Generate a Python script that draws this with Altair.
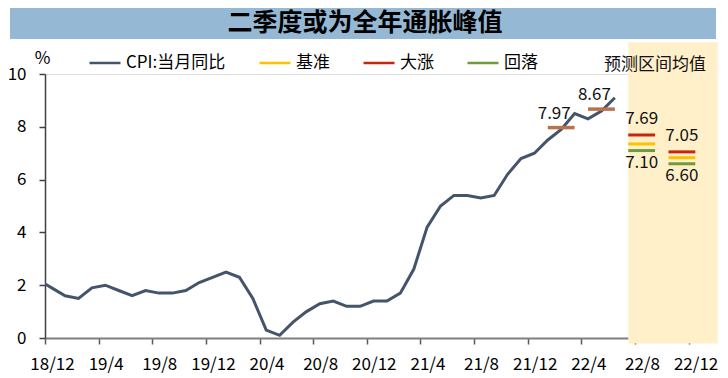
import json
import altair as alt
import pandas as pd

# ---------------- data ----------------
months = []
yy, mm = 2018, 11
for _ in range(50):
    months.append(f"{yy % 100}/{mm}")
    mm += 1
    if mm > 12:
        mm, yy = 1, yy + 1
# months[0] = "18/11" (partly clipped), months[1] = "18/12" is the first category

cpi_values = [2.2, 1.9, 1.6, 1.5, 1.9, 2.0, 1.8, 1.6, 1.8, 1.7, 1.7, 1.8, 2.1, 2.3,
              2.5, 2.3, 1.5, 0.3, 0.1, 0.6, 1.0, 1.3, 1.4, 1.2, 1.2, 1.4, 1.4, 1.7,
              2.6, 4.2, 5.0, 5.4, 5.4, 5.3, 5.4, 6.2, 6.8, 7.0, 7.5, 7.9, 8.5, 8.3,
              8.6, 9.1]

quarter_months = ["22/2", "22/5"]
quarter_values = [7.97, 8.67]

fc_months = ["22/8", "22/8", "22/8", "22/11", "22/11", "22/11"]
fc_scenarios = ["大涨", "基准", "回落", "大涨", "基准", "回落"]
fc_values = [7.69, 7.35, 7.10, 7.05, 6.83, 6.60]

tick_labels = months[1::4]
series_names = ["CPI:当月同比", "基准", "大涨", "回落"]
series_colors = ["#44546A", "#FFC000", "#C8240E", "#6E9B3C"]

title_text = "二季度或为全年通胀峰值"
shade_text = "预测区间均值"


def idx(label):
    return months.index(label) - 1


FONT = "Noto Sans CJK SC"

cpi_df = pd.DataFrame({
    "x": [idx(m) for m in months[:len(cpi_values)]],
    "value": cpi_values,
    "series": series_names[0],
})

q_df = pd.DataFrame({
    "x0": [idx(m) - 1 for m in quarter_months],
    "x1": [idx(m) + 1 for m in quarter_months],
    "xm": [idx(m) for m in quarter_months],
    "value": quarter_values,
    "label": [f"{v:.2f}" for v in quarter_values],
})

fc_df = pd.DataFrame({
    "x0": [idx(m) - 1 for m in fc_months],
    "x1": [idx(m) + 1 for m in fc_months],
    "xm": [idx(m) for m in fc_months],
    "value": fc_values,
    "series": fc_scenarios,
    "label": [f"{v:.2f}" for v in fc_values],
})

shade_df = pd.DataFrame({"x0": [idx("22/7")], "x1": [idx("22/12") + 1.67],
                         "y0": [-0.21], "y1": [11.2]})

xscale = alt.Scale(domain=[-0.5, 48.5], nice=False, zero=False)
yscale = alt.Scale(domain=[0, 10], nice=False, zero=True)
cscale = alt.Scale(domain=series_names, range=series_colors)

label_expr = f"{json.dumps(tick_labels, ensure_ascii=False)}[round((datum.value + 0.5) / 4)]"

x_axis = alt.Axis(values=[-0.5 + 4 * k for k in range(13)], labelExpr=label_expr,
                  title=None, grid=False, tickSize=6, labelPadding=12,
                  labelOffset=7, labelFontSize=17, labelFont=FONT, labelColor="#000000",
                  domainColor="#7F7F7F", domainWidth=2, tickColor="#595959", tickWidth=1.5,
                  labelOverlap=False, labelFlush=False)
y_axis = alt.Axis(values=[0, 2, 4, 6, 8, 10], title="%", titleAngle=0, titleX=-3,
                  titleY=-16, titleAlign="center", titleBaseline="middle",
                  titleFontWeight="normal", titleFontSize=17, titleFont=FONT,
                  titleColor="#000000", grid=False, tickSize=6, labelPadding=13,
                  labelFontSize=17, labelFont=FONT, labelColor="#000000",
                  domainColor="#404040", domainWidth=1.5, tickColor="#404040",
                  tickWidth=1.5)

legend = alt.Legend(orient="none", legendX=43, legendY=-28, direction="horizontal",
                    title=None, symbolType="stroke", symbolSize=961, symbolStrokeWidth=2.5,
                    labelFontSize=17, labelFont=FONT, labelColor="#000000",
                    columnPadding=28, padding=0, labelOffset=4, labelLimit=0)

shade = alt.Chart(shade_df).mark_rect(color="#FFF0C9", clip=False).encode(
    x=alt.X("x0:Q", scale=xscale, axis=x_axis),
    x2="x1:Q",
    y=alt.Y("y0:Q", scale=yscale, axis=y_axis),
    y2="y1:Q",
)

line = alt.Chart(cpi_df).mark_line(clip=True, strokeWidth=3).encode(
    x=alt.X("x:Q", scale=xscale),
    y=alt.Y("value:Q", scale=yscale),
    color=alt.Color("series:N", scale=cscale, legend=legend),
)

q_rules = alt.Chart(q_df).mark_rule(color="#B8734D", strokeWidth=3.5).encode(
    x="x0:Q", x2="x1:Q", y="value:Q")
q_text = alt.Chart(q_df).mark_text(font=FONT, fontSize=17, dx=-7, dy=-14,
                                   color="#111111").encode(
    x="xm:Q", y="value:Q", text="label:N")

fc_rules = alt.Chart(fc_df).mark_rule(strokeWidth=3).encode(
    x="x0:Q", x2="x1:Q", y="value:Q",
    color=alt.Color("series:N", scale=cscale, legend=legend))
fc_up = alt.Chart(fc_df).transform_filter(alt.datum.series == "大涨").mark_text(
    font=FONT, fontSize=17, dy=-16, color="#111111").encode(
    x="xm:Q", y="value:Q", text="label:N")
fc_dn = alt.Chart(fc_df).transform_filter(alt.datum.series == "回落").mark_text(
    font=FONT, fontSize=17, dy=12, color="#111111").encode(
    x="xm:Q", y="value:Q", text="label:N")

shade_label = alt.Chart(pd.DataFrame({"x": [idx("22/9")], "y": [10.33], "t": [shade_text]})).mark_text(
    font=FONT, fontSize=17, color="#111111", clip=False).encode(
    x="x:Q", y="y:Q", text="t:N")

title_band = alt.Chart(pd.DataFrame({"t": [title_text]})).mark_rect(color="#95B9D5").encode(
    x=alt.value(-35), x2=alt.value(671), y=alt.value(-66), y2=alt.value(-35))
title_label = alt.Chart(pd.DataFrame({"t": [title_text]})).mark_text(
    font=FONT, fontSize=25, fontWeight="bold", color="#000000").encode(
    x=alt.value(320), y=alt.value(-51), text="t:N")

chart = alt.layer(title_band, title_label, shade, line, q_rules, q_text, fc_rules,
                  fc_up, fc_dn, shade_label).properties(
    width=657, height=264,
    autosize=alt.AutoSizeParams(type="none"),
    padding={"left": 37, "top": 66, "right": 18, "bottom": 44},
).configure_view(stroke=None).configure(background="#FFFFFF")

chart.save("out.html", embed_options={"renderer": "svg", "actions": False})
